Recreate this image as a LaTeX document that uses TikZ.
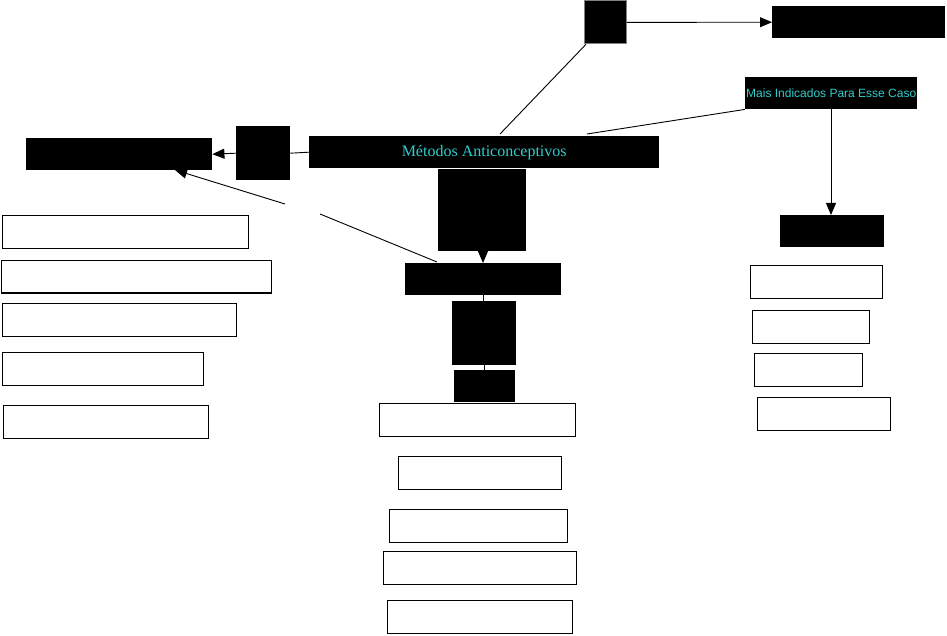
\documentclass[tikz,border=0pt]{standalone}
\usepackage{fontspec}
\setmainfont{Liberation Serif}
\newfontfamily\arialfont{Liberation Sans}
\usetikzlibrary{arrows.meta}
\definecolor{cyantxt}{RGB}{51,204,204}
\tikzset{
  blk/.style={fill=black,draw=none,inner sep=0pt,anchor=north west},
  sq/.style={fill=black,draw=gray,line width=0.8pt,inner sep=0pt,anchor=north west},
  wbox/.style={draw=black,fill=white,line width=1.1pt},
  conn/.style={draw=black,line width=0.9pt},
  arr/.style={conn,-{Triangle[length=12pt,width=10pt]}},
}
\begin{document}
\begin{tikzpicture}[x=1pt,y=-1pt]
\useasboundingbox[fill=white] (0,0) rectangle (947,636);
% top square and top-right box
\node[sq,minimum width=42pt,minimum height=43pt] (tsq) at (584,0.5) {};
\node[blk,minimum width=173pt,minimum height=32pt] (trb) at (772,6) {};
% Mais Indicados
\node[blk,minimum width=172pt,minimum height=32pt,text=cyantxt,font=\arialfont\fontsize{12}{14}\selectfont] (mais) at (745,77) {Mais Indicados Para Esse Caso};
% main box
\node[blk,minimum width=350pt,minimum height=32pt,text=cyantxt,font=\fontsize{16}{18}\selectfont] (main) at (309,136) {Métodos Anticonceptivos};
% left side
\node[blk,minimum width=186pt,minimum height=32pt] (lb) at (26,138) {};
\node[blk,minimum width=54pt,minimum height=54pt] (ls) at (236,126) {};
% center column
\node[blk,minimum width=88pt,minimum height=82pt] (c1) at (438,169) {};
\node[blk,minimum width=156pt,minimum height=32pt] (c2) at (405,263) {};
\node[blk,minimum width=64pt,minimum height=64pt] (c3) at (452,301) {};
\node[blk,minimum width=61pt,minimum height=32pt] (c4) at (454,370) {};
% right column
\node[blk,minimum width=104pt,minimum height=32pt] (r0) at (780,215) {};
% white boxes - left
\draw[wbox] (2.3,215.3) rectangle (248.7,248.3);
\draw[wbox] (1.3,260.7) rectangle (271.7,293);
\draw[wbox] (2.3,303.3) rectangle (236.7,336.3);
\draw[wbox] (2.3,352.7) rectangle (203.7,385.3);
\draw[wbox] (3.7,405.3) rectangle (208.7,438.3);
% white boxes - center
\draw[wbox] (379.3,403.8) rectangle (575.7,436.7);
\draw[wbox] (398.3,456.3) rectangle (561.7,489.3);
\draw[wbox] (389.3,509.3) rectangle (567.7,542.3);
\draw[wbox] (383.3,551.3) rectangle (576.7,584.3);
\draw[wbox] (387.3,600.3) rectangle (572.7,633.3);
% white boxes - right
\draw[wbox] (750.3,265.3) rectangle (882.7,298.3);
\draw[wbox] (752.3,310.3) rectangle (869.7,343.3);
\draw[wbox] (754.3,353.3) rectangle (862.7,386.3);
\draw[wbox] (757.3,397.3) rectangle (890.7,430.3);
% connectors
\draw[arr] (tsq.east) -- (trb.west);
\draw[conn] (tsq.south west) ++(2,0) coordinate (tsqa) -- (500,134) coordinate (mta);
\draw[conn] (mais.south west) -- (587,134) coordinate (mtb);
\draw[arr] (mais.south -| 831,0) coordinate (msb) -- (r0.north -| msb);
\draw[conn] (main.west) -- (ls.east);
\draw[arr] (ls.west) -- (lb.east);
\draw[arr] (c1.south -| 483,0) coordinate (c1b) -- (c2.north -| c1b);
\coordinate (g1) at (320,214);
\coordinate (g2) at (285,204);
\draw[conn] (437,262) coordinate (c2a) -- (g1);
\draw[arr] (g2) -- (175,170);
\draw[conn] (483,295) -- (483,301);
\draw[conn] (484,365) -- (484,370);
\end{tikzpicture}
\end{document}
